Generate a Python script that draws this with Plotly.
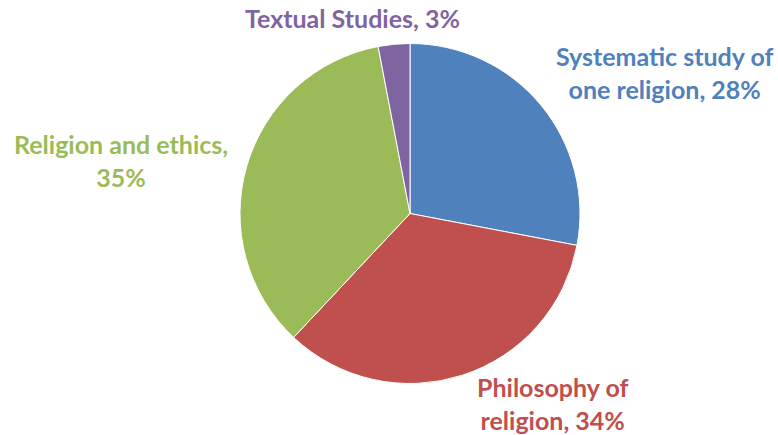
import plotly.graph_objects as go

# Share of each area of study
categories = ["Systematic study of one religion", "Philosophy of religion",
              "Religion and ethics", "Textual Studies"]
shares = [28, 34, 35, 3]
colors = ["#4F81BD", "#C0504D", "#9BBB59", "#8064A2"]

# Label text with manual line breaks, placed outside the pie
label_lines = [["Systematic study of", "one religion"],
               ["Philosophy of", "religion"],
               ["Religion and ethics,", ""],
               ["Textual Studies"]]
label_pos = [(664, 72), (552, 403), (121, 160), (352, 18)]

W, H = 778, 435
cx, cy, r = 410, 213.5, 170

fig = go.Figure(go.Pie(
    labels=categories,
    values=shares,
    sort=False,
    direction="clockwise",
    rotation=0,
    textinfo="none",
    hoverinfo="label+percent",
    marker=dict(colors=colors, line=dict(color="white", width=1)),
    domain=dict(x=[(cx - r) / W, (cx + r) / W],
                y=[1 - (cy + r) / H, 1 - (cy - r) / H]),
    showlegend=False,
))

for cat, val, col, lines, (x, y) in zip(categories, shares, colors, label_lines, label_pos):
    if len(lines) == 1:
        text = f"{lines[0]}, {val}%"
    elif lines[1] == "":
        text = f"{lines[0]}<br>{val}%"
    else:
        text = f"{lines[0]}<br>{lines[1]}, {val}%"
    fig.add_annotation(
        x=x / W, y=1 - y / H, xref="paper", yref="paper",
        text=text, showarrow=False, align="center",
        font=dict(family="Lato", size=25, color=col, weight="bold"),
        xanchor="center", yanchor="middle",
    )

fig.update_layout(
    width=W, height=H,
    margin=dict(l=0, r=0, t=0, b=0),
    paper_bgcolor="white",
    plot_bgcolor="white",
)

fig.write_html("out.html")
